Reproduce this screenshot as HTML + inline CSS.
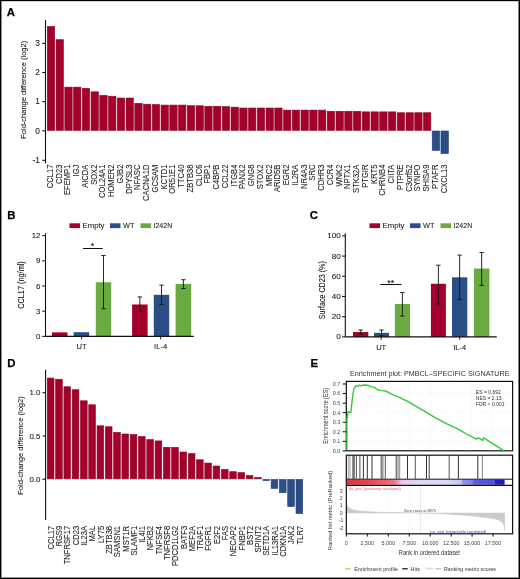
<!DOCTYPE html>
<html><head><meta charset="utf-8"><style>
html,body{margin:0;padding:0;background:#fff;}
body{width:520px;height:579px;overflow:hidden;position:relative;}
svg{position:absolute;left:0;top:0;font-family:"Liberation Sans", sans-serif;will-change:transform;}
.frame{position:absolute;left:0;top:0;width:520px;height:579px;box-sizing:border-box;border:1px solid #000;}
.frame2{position:absolute;left:1px;top:1px;width:518px;height:577px;box-sizing:border-box;border-top:1px solid #d0d0d0;border-left:1px solid #909090;border-right:1px solid #808080;border-bottom:1px solid #909090;}
</style></head><body>
<svg width="520" height="579" viewBox="0 0 520 579">
<text x="6.80" y="16.40" font-size="11.4" text-anchor="start" font-weight="bold" fill="#000" stroke="#000" stroke-width="0.25">A</text>
<text x="7.30" y="219.00" font-size="11.4" text-anchor="start" font-weight="bold" fill="#000" stroke="#000" stroke-width="0.25">B</text>
<text x="309.80" y="219.30" font-size="11.4" text-anchor="start" font-weight="bold" fill="#000" stroke="#000" stroke-width="0.25">C</text>
<text x="7.30" y="367.00" font-size="11.4" text-anchor="start" font-weight="bold" fill="#000" stroke="#000" stroke-width="0.25">D</text>
<text x="310.60" y="367.40" font-size="11.4" text-anchor="start" font-weight="bold" fill="#000" stroke="#000" stroke-width="0.25">E</text>
<rect x="47.30" y="26.45" width="7.40" height="103.95" fill="#a5002c" stroke="#880a28" stroke-width="0.6"/>
<text transform="translate(52.90,164.60) rotate(-90)" font-size="8.3" text-anchor="end" fill="#1a1a1a" stroke="#1a1a1a" stroke-width="0.08" textLength="23.66" lengthAdjust="spacingAndGlyphs" >CCL17</text>
<rect x="56.05" y="39.70" width="7.40" height="90.70" fill="#a5002c" stroke="#880a28" stroke-width="0.6"/>
<text transform="translate(61.65,164.60) rotate(-90)" font-size="8.3" text-anchor="end" fill="#1a1a1a" stroke="#1a1a1a" stroke-width="0.08" textLength="19.43" lengthAdjust="spacingAndGlyphs" >CD23</text>
<rect x="64.80" y="87.12" width="7.40" height="43.28" fill="#a5002c" stroke="#880a28" stroke-width="0.6"/>
<text transform="translate(70.40,164.60) rotate(-90)" font-size="8.3" text-anchor="end" fill="#1a1a1a" stroke="#1a1a1a" stroke-width="0.08" textLength="30.41" lengthAdjust="spacingAndGlyphs" >EFEMP1</text>
<rect x="73.54" y="87.12" width="7.40" height="43.28" fill="#a5002c" stroke="#880a28" stroke-width="0.6"/>
<text transform="translate(79.14,164.60) rotate(-90)" font-size="8.3" text-anchor="end" fill="#1a1a1a" stroke="#1a1a1a" stroke-width="0.08" textLength="11.82" lengthAdjust="spacingAndGlyphs" >IGJ</text>
<rect x="82.29" y="88.30" width="7.40" height="42.10" fill="#a5002c" stroke="#880a28" stroke-width="0.6"/>
<text transform="translate(87.89,164.60) rotate(-90)" font-size="8.3" text-anchor="end" fill="#1a1a1a" stroke="#1a1a1a" stroke-width="0.08" textLength="23.23" lengthAdjust="spacingAndGlyphs" >AICDA</text>
<rect x="91.04" y="91.83" width="7.40" height="38.57" fill="#a5002c" stroke="#880a28" stroke-width="0.6"/>
<text transform="translate(96.64,164.60) rotate(-90)" font-size="8.3" text-anchor="end" fill="#1a1a1a" stroke="#1a1a1a" stroke-width="0.08" textLength="20.28" lengthAdjust="spacingAndGlyphs" >SOX2</text>
<rect x="99.79" y="95.37" width="7.40" height="35.03" fill="#a5002c" stroke="#880a28" stroke-width="0.6"/>
<text transform="translate(105.39,164.60) rotate(-90)" font-size="8.3" text-anchor="end" fill="#1a1a1a" stroke="#1a1a1a" stroke-width="0.08" textLength="33.37" lengthAdjust="spacingAndGlyphs" >COL24A1</text>
<rect x="108.54" y="96.25" width="7.40" height="34.15" fill="#a5002c" stroke="#880a28" stroke-width="0.6"/>
<text transform="translate(114.14,164.60) rotate(-90)" font-size="8.3" text-anchor="end" fill="#1a1a1a" stroke="#1a1a1a" stroke-width="0.08" textLength="32.51" lengthAdjust="spacingAndGlyphs" >HOMER2</text>
<rect x="117.28" y="98.02" width="7.40" height="32.38" fill="#a5002c" stroke="#880a28" stroke-width="0.6"/>
<text transform="translate(122.88,164.60) rotate(-90)" font-size="8.3" text-anchor="end" fill="#1a1a1a" stroke="#1a1a1a" stroke-width="0.08" textLength="19.01" lengthAdjust="spacingAndGlyphs" >GJB2</text>
<rect x="126.03" y="98.02" width="7.40" height="32.38" fill="#a5002c" stroke="#880a28" stroke-width="0.6"/>
<text transform="translate(131.63,164.60) rotate(-90)" font-size="8.3" text-anchor="end" fill="#1a1a1a" stroke="#1a1a1a" stroke-width="0.08" textLength="29.15" lengthAdjust="spacingAndGlyphs" >DPYSL3</text>
<rect x="134.78" y="103.32" width="7.40" height="27.08" fill="#a5002c" stroke="#880a28" stroke-width="0.6"/>
<text transform="translate(140.38,164.60) rotate(-90)" font-size="8.3" text-anchor="end" fill="#1a1a1a" stroke="#1a1a1a" stroke-width="0.08" textLength="25.34" lengthAdjust="spacingAndGlyphs" >NFASC</text>
<rect x="143.53" y="104.20" width="7.40" height="26.20" fill="#a5002c" stroke="#880a28" stroke-width="0.6"/>
<text transform="translate(149.13,164.60) rotate(-90)" font-size="8.3" text-anchor="end" fill="#1a1a1a" stroke="#1a1a1a" stroke-width="0.08" textLength="36.32" lengthAdjust="spacingAndGlyphs" >CACNA1D</text>
<rect x="152.28" y="104.49" width="7.40" height="25.90" fill="#a5002c" stroke="#880a28" stroke-width="0.6"/>
<text transform="translate(157.88,164.60) rotate(-90)" font-size="8.3" text-anchor="end" fill="#1a1a1a" stroke="#1a1a1a" stroke-width="0.08" textLength="27.87" lengthAdjust="spacingAndGlyphs" >GCSAM</text>
<rect x="161.02" y="105.08" width="7.40" height="25.32" fill="#a5002c" stroke="#880a28" stroke-width="0.6"/>
<text transform="translate(166.62,164.60) rotate(-90)" font-size="8.3" text-anchor="end" fill="#1a1a1a" stroke="#1a1a1a" stroke-width="0.08" textLength="24.91" lengthAdjust="spacingAndGlyphs" >KCTD1</text>
<rect x="169.77" y="105.08" width="7.40" height="25.32" fill="#a5002c" stroke="#880a28" stroke-width="0.6"/>
<text transform="translate(175.37,164.60) rotate(-90)" font-size="8.3" text-anchor="end" fill="#1a1a1a" stroke="#1a1a1a" stroke-width="0.08" textLength="29.15" lengthAdjust="spacingAndGlyphs" >OR51E1</text>
<rect x="178.52" y="105.08" width="7.40" height="25.32" fill="#a5002c" stroke="#880a28" stroke-width="0.6"/>
<text transform="translate(184.12,164.60) rotate(-90)" font-size="8.3" text-anchor="end" fill="#1a1a1a" stroke="#1a1a1a" stroke-width="0.08" textLength="23.23" lengthAdjust="spacingAndGlyphs" >TTC40</text>
<rect x="187.27" y="105.67" width="7.40" height="24.73" fill="#a5002c" stroke="#880a28" stroke-width="0.6"/>
<text transform="translate(192.87,164.60) rotate(-90)" font-size="8.3" text-anchor="end" fill="#1a1a1a" stroke="#1a1a1a" stroke-width="0.08" textLength="27.88" lengthAdjust="spacingAndGlyphs" >ZBTB38</text>
<rect x="196.02" y="105.76" width="7.40" height="24.64" fill="#a5002c" stroke="#880a28" stroke-width="0.6"/>
<text transform="translate(201.62,164.60) rotate(-90)" font-size="8.3" text-anchor="end" fill="#1a1a1a" stroke="#1a1a1a" stroke-width="0.08" textLength="21.54" lengthAdjust="spacingAndGlyphs" >CLIC6</text>
<rect x="204.76" y="106.26" width="7.40" height="24.14" fill="#a5002c" stroke="#880a28" stroke-width="0.6"/>
<text transform="translate(210.36,164.60) rotate(-90)" font-size="8.3" text-anchor="end" fill="#1a1a1a" stroke="#1a1a1a" stroke-width="0.08" textLength="19.01" lengthAdjust="spacingAndGlyphs" >FBP1</text>
<rect x="213.51" y="106.26" width="7.40" height="24.14" fill="#a5002c" stroke="#880a28" stroke-width="0.6"/>
<text transform="translate(219.11,164.60) rotate(-90)" font-size="8.3" text-anchor="end" fill="#1a1a1a" stroke="#1a1a1a" stroke-width="0.08" textLength="24.92" lengthAdjust="spacingAndGlyphs" >C4BPB</text>
<rect x="222.26" y="106.56" width="7.40" height="23.84" fill="#a5002c" stroke="#880a28" stroke-width="0.6"/>
<text transform="translate(227.86,164.60) rotate(-90)" font-size="8.3" text-anchor="end" fill="#1a1a1a" stroke="#1a1a1a" stroke-width="0.08" textLength="23.66" lengthAdjust="spacingAndGlyphs" >CCL22</text>
<rect x="231.01" y="107.15" width="7.40" height="23.25" fill="#a5002c" stroke="#880a28" stroke-width="0.6"/>
<text transform="translate(236.61,164.60) rotate(-90)" font-size="8.3" text-anchor="end" fill="#1a1a1a" stroke="#1a1a1a" stroke-width="0.08" textLength="21.96" lengthAdjust="spacingAndGlyphs" >ITGB4</text>
<rect x="239.76" y="108.03" width="7.40" height="22.37" fill="#a5002c" stroke="#880a28" stroke-width="0.6"/>
<text transform="translate(245.36,164.60) rotate(-90)" font-size="8.3" text-anchor="end" fill="#1a1a1a" stroke="#1a1a1a" stroke-width="0.08" textLength="24.36" lengthAdjust="spacingAndGlyphs" >PANX2</text>
<rect x="248.50" y="108.03" width="7.40" height="22.37" fill="#a5002c" stroke="#880a28" stroke-width="0.6"/>
<text transform="translate(254.10,164.60) rotate(-90)" font-size="8.3" text-anchor="end" fill="#1a1a1a" stroke="#1a1a1a" stroke-width="0.08" textLength="21.54" lengthAdjust="spacingAndGlyphs" >GNG8</text>
<rect x="257.25" y="108.03" width="7.40" height="22.37" fill="#a5002c" stroke="#880a28" stroke-width="0.6"/>
<text transform="translate(262.85,164.60) rotate(-90)" font-size="8.3" text-anchor="end" fill="#1a1a1a" stroke="#1a1a1a" stroke-width="0.08" textLength="24.78" lengthAdjust="spacingAndGlyphs" >STOX2</text>
<rect x="266.00" y="108.03" width="7.40" height="22.37" fill="#a5002c" stroke="#880a28" stroke-width="0.6"/>
<text transform="translate(271.60,164.60) rotate(-90)" font-size="8.3" text-anchor="end" fill="#1a1a1a" stroke="#1a1a1a" stroke-width="0.08" textLength="21.53" lengthAdjust="spacingAndGlyphs" >MRC2</text>
<rect x="274.75" y="108.03" width="7.40" height="22.37" fill="#a5002c" stroke="#880a28" stroke-width="0.6"/>
<text transform="translate(280.35,164.60) rotate(-90)" font-size="8.3" text-anchor="end" fill="#1a1a1a" stroke="#1a1a1a" stroke-width="0.08" textLength="27.45" lengthAdjust="spacingAndGlyphs" >ARID5B</text>
<rect x="283.50" y="110.09" width="7.40" height="20.31" fill="#a5002c" stroke="#880a28" stroke-width="0.6"/>
<text transform="translate(289.10,164.60) rotate(-90)" font-size="8.3" text-anchor="end" fill="#1a1a1a" stroke="#1a1a1a" stroke-width="0.08" textLength="20.7" lengthAdjust="spacingAndGlyphs" >EGR2</text>
<rect x="292.24" y="110.09" width="7.40" height="20.31" fill="#a5002c" stroke="#880a28" stroke-width="0.6"/>
<text transform="translate(297.84,164.60) rotate(-90)" font-size="8.3" text-anchor="end" fill="#1a1a1a" stroke="#1a1a1a" stroke-width="0.08" textLength="21.12" lengthAdjust="spacingAndGlyphs" >IL2RA</text>
<rect x="300.99" y="110.09" width="7.40" height="20.31" fill="#a5002c" stroke="#880a28" stroke-width="0.6"/>
<text transform="translate(306.59,164.60) rotate(-90)" font-size="8.3" text-anchor="end" fill="#1a1a1a" stroke="#1a1a1a" stroke-width="0.08" textLength="24.5" lengthAdjust="spacingAndGlyphs" >NR4A3</text>
<rect x="309.74" y="110.09" width="7.40" height="20.31" fill="#a5002c" stroke="#880a28" stroke-width="0.6"/>
<text transform="translate(315.34,164.60) rotate(-90)" font-size="8.3" text-anchor="end" fill="#1a1a1a" stroke="#1a1a1a" stroke-width="0.08" textLength="16.05" lengthAdjust="spacingAndGlyphs" >SRC</text>
<rect x="318.49" y="110.09" width="7.40" height="20.31" fill="#a5002c" stroke="#880a28" stroke-width="0.6"/>
<text transform="translate(324.09,164.60) rotate(-90)" font-size="8.3" text-anchor="end" fill="#1a1a1a" stroke="#1a1a1a" stroke-width="0.08" textLength="26.18" lengthAdjust="spacingAndGlyphs" >CDHR3</text>
<rect x="327.24" y="111.27" width="7.40" height="19.13" fill="#a5002c" stroke="#880a28" stroke-width="0.6"/>
<text transform="translate(332.84,164.60) rotate(-90)" font-size="8.3" text-anchor="end" fill="#1a1a1a" stroke="#1a1a1a" stroke-width="0.08" textLength="20.69" lengthAdjust="spacingAndGlyphs" >CCR4</text>
<rect x="335.98" y="111.27" width="7.40" height="19.13" fill="#a5002c" stroke="#880a28" stroke-width="0.6"/>
<text transform="translate(341.58,164.60) rotate(-90)" font-size="8.3" text-anchor="end" fill="#1a1a1a" stroke="#1a1a1a" stroke-width="0.08" textLength="21.96" lengthAdjust="spacingAndGlyphs" >WNK2</text>
<rect x="344.73" y="111.27" width="7.40" height="19.13" fill="#a5002c" stroke="#880a28" stroke-width="0.6"/>
<text transform="translate(350.33,164.60) rotate(-90)" font-size="8.3" text-anchor="end" fill="#1a1a1a" stroke="#1a1a1a" stroke-width="0.08" textLength="24.5" lengthAdjust="spacingAndGlyphs" >NPTX1</text>
<rect x="353.48" y="111.27" width="7.40" height="19.13" fill="#a5002c" stroke="#880a28" stroke-width="0.6"/>
<text transform="translate(359.08,164.60) rotate(-90)" font-size="8.3" text-anchor="end" fill="#1a1a1a" stroke="#1a1a1a" stroke-width="0.08" textLength="28.3" lengthAdjust="spacingAndGlyphs" >STK32A</text>
<rect x="362.23" y="111.86" width="7.40" height="18.54" fill="#a5002c" stroke="#880a28" stroke-width="0.6"/>
<text transform="translate(367.83,164.60) rotate(-90)" font-size="8.3" text-anchor="end" fill="#1a1a1a" stroke="#1a1a1a" stroke-width="0.08" textLength="23.22" lengthAdjust="spacingAndGlyphs" >PTGIR</text>
<rect x="370.98" y="111.86" width="7.40" height="18.54" fill="#a5002c" stroke="#880a28" stroke-width="0.6"/>
<text transform="translate(376.58,164.60) rotate(-90)" font-size="8.3" text-anchor="end" fill="#1a1a1a" stroke="#1a1a1a" stroke-width="0.08" textLength="19.29" lengthAdjust="spacingAndGlyphs" >KRT5</text>
<rect x="379.72" y="111.86" width="7.40" height="18.54" fill="#a5002c" stroke="#880a28" stroke-width="0.6"/>
<text transform="translate(385.32,164.60) rotate(-90)" font-size="8.3" text-anchor="end" fill="#1a1a1a" stroke="#1a1a1a" stroke-width="0.08" textLength="31.25" lengthAdjust="spacingAndGlyphs" >CHRNB4</text>
<rect x="388.47" y="111.86" width="7.40" height="18.54" fill="#a5002c" stroke="#880a28" stroke-width="0.6"/>
<text transform="translate(394.07,164.60) rotate(-90)" font-size="8.3" text-anchor="end" fill="#1a1a1a" stroke="#1a1a1a" stroke-width="0.08" textLength="18.86" lengthAdjust="spacingAndGlyphs" >CIITA</text>
<rect x="397.22" y="112.74" width="7.40" height="17.66" fill="#a5002c" stroke="#880a28" stroke-width="0.6"/>
<text transform="translate(402.82,164.60) rotate(-90)" font-size="8.3" text-anchor="end" fill="#1a1a1a" stroke="#1a1a1a" stroke-width="0.08" textLength="25.34" lengthAdjust="spacingAndGlyphs" >PTPRE</text>
<rect x="405.97" y="112.74" width="7.40" height="17.66" fill="#a5002c" stroke="#880a28" stroke-width="0.6"/>
<text transform="translate(411.57,164.60) rotate(-90)" font-size="8.3" text-anchor="end" fill="#1a1a1a" stroke="#1a1a1a" stroke-width="0.08" textLength="27.04" lengthAdjust="spacingAndGlyphs" >C3orf52</text>
<rect x="414.72" y="112.74" width="7.40" height="17.66" fill="#a5002c" stroke="#880a28" stroke-width="0.6"/>
<text transform="translate(420.32,164.60) rotate(-90)" font-size="8.3" text-anchor="end" fill="#1a1a1a" stroke="#1a1a1a" stroke-width="0.08" textLength="26.61" lengthAdjust="spacingAndGlyphs" >SYNPO</text>
<rect x="423.46" y="112.74" width="7.40" height="17.66" fill="#a5002c" stroke="#880a28" stroke-width="0.6"/>
<text transform="translate(429.06,164.60) rotate(-90)" font-size="8.3" text-anchor="end" fill="#1a1a1a" stroke="#1a1a1a" stroke-width="0.08" textLength="27.03" lengthAdjust="spacingAndGlyphs" >SHISA9</text>
<rect x="432.21" y="131.00" width="7.40" height="19.43" fill="#2c4e87" stroke="#223f70" stroke-width="0.6"/>
<text transform="translate(437.81,164.60) rotate(-90)" font-size="8.3" text-anchor="end" fill="#1a1a1a" stroke="#1a1a1a" stroke-width="0.08" textLength="24.35" lengthAdjust="spacingAndGlyphs" >PTAFR</text>
<rect x="440.96" y="131.00" width="7.40" height="22.67" fill="#2c4e87" stroke="#223f70" stroke-width="0.6"/>
<text transform="translate(446.56,164.60) rotate(-90)" font-size="8.3" text-anchor="end" fill="#1a1a1a" stroke="#1a1a1a" stroke-width="0.08" textLength="28.73" lengthAdjust="spacingAndGlyphs" >CXCL13</text>
<line x1="45.50" y1="20.00" x2="45.50" y2="163.30" stroke="#111" stroke-width="1.1" />
<line x1="42.30" y1="43.40" x2="45.60" y2="43.40" stroke="#111" stroke-width="1.1" />
<text x="40.00" y="46.10" font-size="8.4" text-anchor="end" font-weight="normal" fill="#1a1a1a" stroke="#1a1a1a" stroke-width="0.08" >3</text>
<line x1="42.30" y1="72.50" x2="45.60" y2="72.50" stroke="#111" stroke-width="1.1" />
<text x="40.00" y="75.20" font-size="8.4" text-anchor="end" font-weight="normal" fill="#1a1a1a" stroke="#1a1a1a" stroke-width="0.08" >2</text>
<line x1="42.30" y1="101.60" x2="45.60" y2="101.60" stroke="#111" stroke-width="1.1" />
<text x="40.00" y="104.30" font-size="8.4" text-anchor="end" font-weight="normal" fill="#1a1a1a" stroke="#1a1a1a" stroke-width="0.08" >1</text>
<line x1="42.30" y1="130.80" x2="45.60" y2="130.80" stroke="#111" stroke-width="1.1" />
<text x="40.00" y="133.50" font-size="8.4" text-anchor="end" font-weight="normal" fill="#1a1a1a" stroke="#1a1a1a" stroke-width="0.08" >0</text>
<line x1="42.30" y1="160.30" x2="45.60" y2="160.30" stroke="#111" stroke-width="1.1" />
<text x="40.00" y="163.00" font-size="8.4" text-anchor="end" font-weight="normal" fill="#1a1a1a" stroke="#1a1a1a" stroke-width="0.08" >-1</text>
<text transform="translate(25.80,89.80) rotate(-90)" font-size="8.0" text-anchor="middle" fill="#111" stroke="#111" stroke-width="0.08" textLength="98" lengthAdjust="spacingAndGlyphs" >Fold-change difference (log2)</text>
<rect x="69.50" y="223.30" width="10.50" height="4.80" fill="#a5002c" />
<text x="82.50" y="228.40" font-size="7.6" text-anchor="start" font-weight="normal" fill="#1a1a1a" stroke="#1a1a1a" stroke-width="0.08" textLength="22" lengthAdjust="spacingAndGlyphs" >Empty</text>
<rect x="110.00" y="223.30" width="10.50" height="4.80" fill="#2c4e87" />
<text x="123.00" y="228.40" font-size="7.6" text-anchor="start" font-weight="normal" fill="#1a1a1a" stroke="#1a1a1a" stroke-width="0.08" textLength="11.5" lengthAdjust="spacingAndGlyphs" >WT</text>
<rect x="140.50" y="223.30" width="10.50" height="4.80" fill="#6aaa40" />
<text x="153.50" y="228.40" font-size="7.6" text-anchor="start" font-weight="normal" fill="#1a1a1a" stroke="#1a1a1a" stroke-width="0.08" textLength="18.7" lengthAdjust="spacingAndGlyphs" >I242N</text>
<rect x="51.90" y="332.37" width="15.60" height="4.03" fill="#a5002c" />
<rect x="73.60" y="332.20" width="15.60" height="4.20" fill="#2c4e87" />
<rect x="95.80" y="282.22" width="15.40" height="54.18" fill="#6aaa40" />
<line x1="103.50" y1="255.51" x2="103.50" y2="308.68" stroke="#111" stroke-width="0.9" />
<line x1="101.30" y1="255.51" x2="105.70" y2="255.51" stroke="#111" stroke-width="0.9" />
<line x1="101.30" y1="308.68" x2="105.70" y2="308.68" stroke="#111" stroke-width="0.9" />
<rect x="132.10" y="304.48" width="15.50" height="31.92" fill="#a5002c" />
<line x1="139.85" y1="296.92" x2="139.85" y2="311.20" stroke="#111" stroke-width="0.9" />
<line x1="137.65" y1="296.92" x2="142.05" y2="296.92" stroke="#111" stroke-width="0.9" />
<line x1="137.65" y1="311.20" x2="142.05" y2="311.20" stroke="#111" stroke-width="0.9" />
<rect x="153.80" y="294.82" width="15.40" height="41.58" fill="#2c4e87" />
<line x1="161.50" y1="285.16" x2="161.50" y2="304.48" stroke="#111" stroke-width="0.9" />
<line x1="159.30" y1="285.16" x2="163.70" y2="285.16" stroke="#111" stroke-width="0.9" />
<line x1="159.30" y1="304.48" x2="163.70" y2="304.48" stroke="#111" stroke-width="0.9" />
<rect x="175.60" y="283.90" width="15.60" height="52.50" fill="#6aaa40" />
<line x1="183.40" y1="279.70" x2="183.40" y2="288.52" stroke="#111" stroke-width="0.9" />
<line x1="181.20" y1="279.70" x2="185.60" y2="279.70" stroke="#111" stroke-width="0.9" />
<line x1="181.20" y1="288.52" x2="185.60" y2="288.52" stroke="#111" stroke-width="0.9" />
<line x1="45.50" y1="233.30" x2="45.50" y2="336.40" stroke="#111" stroke-width="1.1" />
<line x1="45.50" y1="336.40" x2="193.80" y2="336.40" stroke="#111" stroke-width="1.1" />
<line x1="42.20" y1="336.40" x2="45.50" y2="336.40" stroke="#111" stroke-width="1.0" />
<text x="40.50" y="338.90" font-size="7.9" text-anchor="end" font-weight="normal" fill="#1a1a1a" stroke="#1a1a1a" stroke-width="0.08" >0</text>
<line x1="42.20" y1="311.20" x2="45.50" y2="311.20" stroke="#111" stroke-width="1.0" />
<text x="40.50" y="313.70" font-size="7.9" text-anchor="end" font-weight="normal" fill="#1a1a1a" stroke="#1a1a1a" stroke-width="0.08" >3</text>
<line x1="42.20" y1="286.00" x2="45.50" y2="286.00" stroke="#111" stroke-width="1.0" />
<text x="40.50" y="288.50" font-size="7.9" text-anchor="end" font-weight="normal" fill="#1a1a1a" stroke="#1a1a1a" stroke-width="0.08" >6</text>
<line x1="42.20" y1="260.80" x2="45.50" y2="260.80" stroke="#111" stroke-width="1.0" />
<text x="40.50" y="263.30" font-size="7.9" text-anchor="end" font-weight="normal" fill="#1a1a1a" stroke="#1a1a1a" stroke-width="0.08" >9</text>
<line x1="42.20" y1="235.60" x2="45.50" y2="235.60" stroke="#111" stroke-width="1.0" />
<text x="40.50" y="238.10" font-size="7.9" text-anchor="end" font-weight="normal" fill="#1a1a1a" stroke="#1a1a1a" stroke-width="0.08" >12</text>
<line x1="81.60" y1="336.40" x2="81.60" y2="339.40" stroke="#111" stroke-width="0.9" />
<line x1="160.60" y1="336.40" x2="160.60" y2="339.40" stroke="#111" stroke-width="0.9" />
<text x="81.60" y="349.20" font-size="7.6" text-anchor="middle" font-weight="normal" fill="#1a1a1a" stroke="#1a1a1a" stroke-width="0.08" >UT</text>
<text x="160.60" y="349.20" font-size="7.6" text-anchor="middle" font-weight="normal" fill="#1a1a1a" stroke="#1a1a1a" stroke-width="0.08" >IL-4</text>
<line x1="83.00" y1="248.50" x2="102.70" y2="248.50" stroke="#111" stroke-width="1.0" />
<text x="92.60" y="248.60" font-size="9" text-anchor="middle" font-weight="normal" fill="#111" stroke="#111" stroke-width="0.08" >*</text>
<text transform="translate(24.40,285.00) rotate(-90)" font-size="8.2" text-anchor="middle" fill="#111" stroke="#111" stroke-width="0.08" textLength="47.6" lengthAdjust="spacingAndGlyphs" >CCL17 (ng/ml)</text>
<rect x="369.50" y="223.30" width="10.50" height="4.80" fill="#a5002c" />
<text x="382.50" y="228.40" font-size="7.6" text-anchor="start" font-weight="normal" fill="#1a1a1a" stroke="#1a1a1a" stroke-width="0.08" textLength="22" lengthAdjust="spacingAndGlyphs" >Empty</text>
<rect x="410.00" y="223.30" width="10.50" height="4.80" fill="#2c4e87" />
<text x="423.00" y="228.40" font-size="7.6" text-anchor="start" font-weight="normal" fill="#1a1a1a" stroke="#1a1a1a" stroke-width="0.08" textLength="11.5" lengthAdjust="spacingAndGlyphs" >WT</text>
<rect x="440.50" y="223.30" width="10.50" height="4.80" fill="#6aaa40" />
<text x="453.50" y="228.40" font-size="7.6" text-anchor="start" font-weight="normal" fill="#1a1a1a" stroke="#1a1a1a" stroke-width="0.08" textLength="18.7" lengthAdjust="spacingAndGlyphs" >I242N</text>
<rect x="353.00" y="332.05" width="15.30" height="4.85" fill="#a5002c" />
<line x1="360.65" y1="330.03" x2="360.65" y2="334.07" stroke="#111" stroke-width="0.9" />
<line x1="358.45" y1="330.03" x2="362.85" y2="330.03" stroke="#111" stroke-width="0.9" />
<line x1="358.45" y1="334.07" x2="362.85" y2="334.07" stroke="#111" stroke-width="0.9" />
<rect x="374.00" y="332.86" width="15.00" height="4.04" fill="#2c4e87" />
<line x1="381.50" y1="330.03" x2="381.50" y2="335.69" stroke="#111" stroke-width="0.9" />
<line x1="379.30" y1="330.03" x2="383.70" y2="330.03" stroke="#111" stroke-width="0.9" />
<line x1="379.30" y1="335.69" x2="383.70" y2="335.69" stroke="#111" stroke-width="0.9" />
<rect x="394.80" y="303.97" width="15.20" height="32.93" fill="#6aaa40" />
<line x1="402.40" y1="292.46" x2="402.40" y2="315.99" stroke="#111" stroke-width="0.9" />
<line x1="400.20" y1="292.46" x2="404.60" y2="292.46" stroke="#111" stroke-width="0.9" />
<line x1="400.20" y1="315.99" x2="404.60" y2="315.99" stroke="#111" stroke-width="0.9" />
<rect x="430.90" y="283.77" width="15.00" height="53.13" fill="#a5002c" />
<line x1="438.40" y1="265.19" x2="438.40" y2="303.97" stroke="#111" stroke-width="0.9" />
<line x1="436.20" y1="265.19" x2="440.60" y2="265.19" stroke="#111" stroke-width="0.9" />
<line x1="436.20" y1="303.97" x2="440.60" y2="303.97" stroke="#111" stroke-width="0.9" />
<rect x="452.00" y="277.31" width="15.30" height="59.59" fill="#2c4e87" />
<line x1="459.65" y1="255.09" x2="459.65" y2="299.53" stroke="#111" stroke-width="0.9" />
<line x1="457.45" y1="255.09" x2="461.85" y2="255.09" stroke="#111" stroke-width="0.9" />
<line x1="457.45" y1="299.53" x2="461.85" y2="299.53" stroke="#111" stroke-width="0.9" />
<rect x="473.90" y="268.52" width="15.50" height="68.38" fill="#6aaa40" />
<line x1="481.65" y1="252.56" x2="481.65" y2="285.39" stroke="#111" stroke-width="0.9" />
<line x1="479.45" y1="252.56" x2="483.85" y2="252.56" stroke="#111" stroke-width="0.9" />
<line x1="479.45" y1="285.39" x2="483.85" y2="285.39" stroke="#111" stroke-width="0.9" />
<line x1="345.30" y1="233.30" x2="345.30" y2="336.90" stroke="#111" stroke-width="1.1" />
<line x1="345.30" y1="336.90" x2="496.80" y2="336.90" stroke="#111" stroke-width="1.1" />
<line x1="342.00" y1="336.90" x2="345.30" y2="336.90" stroke="#111" stroke-width="1.0" />
<text x="340.70" y="339.30" font-size="8.1" text-anchor="end" font-weight="normal" fill="#1a1a1a" stroke="#1a1a1a" stroke-width="0.08" >0</text>
<line x1="342.00" y1="316.70" x2="345.30" y2="316.70" stroke="#111" stroke-width="1.0" />
<text x="340.70" y="319.10" font-size="8.1" text-anchor="end" font-weight="normal" fill="#1a1a1a" stroke="#1a1a1a" stroke-width="0.08" >20</text>
<line x1="342.00" y1="296.50" x2="345.30" y2="296.50" stroke="#111" stroke-width="1.0" />
<text x="340.70" y="298.90" font-size="8.1" text-anchor="end" font-weight="normal" fill="#1a1a1a" stroke="#1a1a1a" stroke-width="0.08" >40</text>
<line x1="342.00" y1="276.30" x2="345.30" y2="276.30" stroke="#111" stroke-width="1.0" />
<text x="340.70" y="278.70" font-size="8.1" text-anchor="end" font-weight="normal" fill="#1a1a1a" stroke="#1a1a1a" stroke-width="0.08" >60</text>
<line x1="342.00" y1="256.10" x2="345.30" y2="256.10" stroke="#111" stroke-width="1.0" />
<text x="340.70" y="258.50" font-size="8.1" text-anchor="end" font-weight="normal" fill="#1a1a1a" stroke="#1a1a1a" stroke-width="0.08" >80</text>
<line x1="342.00" y1="235.90" x2="345.30" y2="235.90" stroke="#111" stroke-width="1.0" />
<text x="340.70" y="238.30" font-size="8.1" text-anchor="end" font-weight="normal" fill="#1a1a1a" stroke="#1a1a1a" stroke-width="0.08" >100</text>
<line x1="381.20" y1="336.90" x2="381.20" y2="339.90" stroke="#111" stroke-width="0.9" />
<line x1="459.70" y1="336.90" x2="459.70" y2="339.90" stroke="#111" stroke-width="0.9" />
<text x="381.20" y="349.60" font-size="7.6" text-anchor="middle" font-weight="normal" fill="#1a1a1a" stroke="#1a1a1a" stroke-width="0.08" >UT</text>
<text x="459.70" y="349.60" font-size="7.6" text-anchor="middle" font-weight="normal" fill="#1a1a1a" stroke="#1a1a1a" stroke-width="0.08" >IL-4</text>
<line x1="380.20" y1="284.50" x2="401.50" y2="284.50" stroke="#111" stroke-width="1.0" />
<text x="390.80" y="285.80" font-size="9" text-anchor="middle" font-weight="normal" fill="#111" stroke="#111" stroke-width="0.08" >**</text>
<text transform="translate(325.00,290.20) rotate(-90)" font-size="8.2" text-anchor="middle" fill="#111" stroke="#111" stroke-width="0.08" textLength="58" lengthAdjust="spacingAndGlyphs" >Surface CD23 (%)</text>
<rect x="47.30" y="378.04" width="6.70" height="100.86" fill="#a5002c" stroke="#880a28" stroke-width="0.6"/>
<text transform="translate(53.90,525.90) rotate(-90)" font-size="8.3" text-anchor="end" fill="#1a1a1a" stroke="#1a1a1a" stroke-width="0.08" textLength="23.66" lengthAdjust="spacingAndGlyphs" >CCL17</text>
<rect x="55.59" y="379.25" width="6.70" height="99.65" fill="#a5002c" stroke="#880a28" stroke-width="0.6"/>
<text transform="translate(62.19,525.90) rotate(-90)" font-size="8.3" text-anchor="end" fill="#1a1a1a" stroke="#1a1a1a" stroke-width="0.08" textLength="20.7" lengthAdjust="spacingAndGlyphs" >RGS9</text>
<rect x="63.88" y="386.77" width="6.70" height="92.13" fill="#a5002c" stroke="#880a28" stroke-width="0.6"/>
<text transform="translate(70.48,525.90) rotate(-90)" font-size="8.3" text-anchor="end" fill="#1a1a1a" stroke="#1a1a1a" stroke-width="0.08" textLength="38.43" lengthAdjust="spacingAndGlyphs" >TNFRSF17</text>
<rect x="72.17" y="389.71" width="6.70" height="89.19" fill="#a5002c" stroke="#880a28" stroke-width="0.6"/>
<text transform="translate(78.77,525.90) rotate(-90)" font-size="8.3" text-anchor="end" fill="#1a1a1a" stroke="#1a1a1a" stroke-width="0.08" textLength="19.43" lengthAdjust="spacingAndGlyphs" >CD23</text>
<rect x="80.46" y="400.79" width="6.70" height="78.12" fill="#a5002c" stroke="#880a28" stroke-width="0.6"/>
<text transform="translate(87.06,525.90) rotate(-90)" font-size="8.3" text-anchor="end" fill="#1a1a1a" stroke="#1a1a1a" stroke-width="0.08" textLength="19.86" lengthAdjust="spacingAndGlyphs" >IL23A</text>
<rect x="88.75" y="404.76" width="6.70" height="74.14" fill="#a5002c" stroke="#880a28" stroke-width="0.6"/>
<text transform="translate(95.35,525.90) rotate(-90)" font-size="8.3" text-anchor="end" fill="#1a1a1a" stroke="#1a1a1a" stroke-width="0.08" textLength="15.63" lengthAdjust="spacingAndGlyphs" >MAL</text>
<rect x="97.04" y="425.78" width="6.70" height="53.12" fill="#a5002c" stroke="#880a28" stroke-width="0.6"/>
<text transform="translate(103.64,525.90) rotate(-90)" font-size="8.3" text-anchor="end" fill="#1a1a1a" stroke="#1a1a1a" stroke-width="0.08" textLength="17.18" lengthAdjust="spacingAndGlyphs" >LY75</text>
<rect x="105.33" y="426.74" width="6.70" height="52.16" fill="#a5002c" stroke="#880a28" stroke-width="0.6"/>
<text transform="translate(111.93,525.90) rotate(-90)" font-size="8.3" text-anchor="end" fill="#1a1a1a" stroke="#1a1a1a" stroke-width="0.08" textLength="27.88" lengthAdjust="spacingAndGlyphs" >ZBTB38</text>
<rect x="113.62" y="432.36" width="6.70" height="46.54" fill="#a5002c" stroke="#880a28" stroke-width="0.6"/>
<text transform="translate(120.22,525.90) rotate(-90)" font-size="8.3" text-anchor="end" fill="#1a1a1a" stroke="#1a1a1a" stroke-width="0.08" textLength="31.25" lengthAdjust="spacingAndGlyphs" >SAMSN1</text>
<rect x="121.91" y="434.00" width="6.70" height="44.90" fill="#a5002c" stroke="#880a28" stroke-width="0.6"/>
<text transform="translate(128.51,525.90) rotate(-90)" font-size="8.3" text-anchor="end" fill="#1a1a1a" stroke="#1a1a1a" stroke-width="0.08" textLength="25.76" lengthAdjust="spacingAndGlyphs" >MST1R</text>
<rect x="130.20" y="434.52" width="6.70" height="44.38" fill="#a5002c" stroke="#880a28" stroke-width="0.6"/>
<text transform="translate(136.80,525.90) rotate(-90)" font-size="8.3" text-anchor="end" fill="#1a1a1a" stroke="#1a1a1a" stroke-width="0.08" textLength="29.56" lengthAdjust="spacingAndGlyphs" >SLAMF1</text>
<rect x="138.49" y="436.51" width="6.70" height="42.39" fill="#a5002c" stroke="#880a28" stroke-width="0.6"/>
<text transform="translate(145.09,525.90) rotate(-90)" font-size="8.3" text-anchor="end" fill="#1a1a1a" stroke="#1a1a1a" stroke-width="0.08" textLength="16.9" lengthAdjust="spacingAndGlyphs" >IL4I1</text>
<rect x="146.78" y="439.54" width="6.70" height="39.36" fill="#a5002c" stroke="#880a28" stroke-width="0.6"/>
<text transform="translate(153.38,525.90) rotate(-90)" font-size="8.3" text-anchor="end" fill="#1a1a1a" stroke="#1a1a1a" stroke-width="0.08" textLength="24.5" lengthAdjust="spacingAndGlyphs" >NFKB2</text>
<rect x="155.07" y="440.92" width="6.70" height="37.98" fill="#a5002c" stroke="#880a28" stroke-width="0.6"/>
<text transform="translate(161.67,525.90) rotate(-90)" font-size="8.3" text-anchor="end" fill="#1a1a1a" stroke="#1a1a1a" stroke-width="0.08" textLength="28.71" lengthAdjust="spacingAndGlyphs" >TNFSF4</text>
<rect x="163.36" y="447.32" width="6.70" height="31.58" fill="#a5002c" stroke="#880a28" stroke-width="0.6"/>
<text transform="translate(169.96,525.90) rotate(-90)" font-size="8.3" text-anchor="end" fill="#1a1a1a" stroke="#1a1a1a" stroke-width="0.08" textLength="34.2" lengthAdjust="spacingAndGlyphs" >TNFRSF8</text>
<rect x="171.65" y="447.32" width="6.70" height="31.58" fill="#a5002c" stroke="#880a28" stroke-width="0.6"/>
<text transform="translate(178.25,525.90) rotate(-90)" font-size="8.3" text-anchor="end" fill="#1a1a1a" stroke="#1a1a1a" stroke-width="0.08" textLength="40.13" lengthAdjust="spacingAndGlyphs" >PDCD1LG2</text>
<rect x="179.94" y="451.99" width="6.70" height="26.91" fill="#a5002c" stroke="#880a28" stroke-width="0.6"/>
<text transform="translate(186.54,525.90) rotate(-90)" font-size="8.3" text-anchor="end" fill="#1a1a1a" stroke="#1a1a1a" stroke-width="0.08" textLength="23.09" lengthAdjust="spacingAndGlyphs" >BATF3</text>
<rect x="188.23" y="453.55" width="6.70" height="25.35" fill="#a5002c" stroke="#880a28" stroke-width="0.6"/>
<text transform="translate(194.83,525.90) rotate(-90)" font-size="8.3" text-anchor="end" fill="#1a1a1a" stroke="#1a1a1a" stroke-width="0.08" textLength="25.34" lengthAdjust="spacingAndGlyphs" >MEF2A</text>
<rect x="196.52" y="459.78" width="6.70" height="19.12" fill="#a5002c" stroke="#880a28" stroke-width="0.6"/>
<text transform="translate(203.12,525.90) rotate(-90)" font-size="8.3" text-anchor="end" fill="#1a1a1a" stroke="#1a1a1a" stroke-width="0.08" textLength="24.07" lengthAdjust="spacingAndGlyphs" >TRAF1</text>
<rect x="204.81" y="463.06" width="6.70" height="15.83" fill="#a5002c" stroke="#880a28" stroke-width="0.6"/>
<text transform="translate(211.41,525.90) rotate(-90)" font-size="8.3" text-anchor="end" fill="#1a1a1a" stroke="#1a1a1a" stroke-width="0.08" textLength="24.91" lengthAdjust="spacingAndGlyphs" >FGFR1</text>
<rect x="213.10" y="466.01" width="6.70" height="12.89" fill="#a5002c" stroke="#880a28" stroke-width="0.6"/>
<text transform="translate(219.70,525.90) rotate(-90)" font-size="8.3" text-anchor="end" fill="#1a1a1a" stroke="#1a1a1a" stroke-width="0.08" textLength="18.16" lengthAdjust="spacingAndGlyphs" >E2F2</text>
<rect x="221.39" y="469.38" width="6.70" height="9.52" fill="#a5002c" stroke="#880a28" stroke-width="0.6"/>
<text transform="translate(227.99,525.90) rotate(-90)" font-size="8.3" text-anchor="end" fill="#1a1a1a" stroke="#1a1a1a" stroke-width="0.08" textLength="14.36" lengthAdjust="spacingAndGlyphs" >FAS</text>
<rect x="229.68" y="471.71" width="6.70" height="7.19" fill="#a5002c" stroke="#880a28" stroke-width="0.6"/>
<text transform="translate(236.28,525.90) rotate(-90)" font-size="8.3" text-anchor="end" fill="#1a1a1a" stroke="#1a1a1a" stroke-width="0.08" textLength="30.41" lengthAdjust="spacingAndGlyphs" >NECAP2</text>
<rect x="237.97" y="472.58" width="6.70" height="6.32" fill="#a5002c" stroke="#880a28" stroke-width="0.6"/>
<text transform="translate(244.57,525.90) rotate(-90)" font-size="8.3" text-anchor="end" fill="#1a1a1a" stroke="#1a1a1a" stroke-width="0.08" textLength="24.5" lengthAdjust="spacingAndGlyphs" >FNBP1</text>
<rect x="246.26" y="475.52" width="6.70" height="3.38" fill="#a5002c" stroke="#880a28" stroke-width="0.6"/>
<text transform="translate(252.86,525.90) rotate(-90)" font-size="8.3" text-anchor="end" fill="#1a1a1a" stroke="#1a1a1a" stroke-width="0.08" textLength="19.01" lengthAdjust="spacingAndGlyphs" >BST2</text>
<rect x="254.55" y="477.51" width="6.70" height="1.39" fill="#a5002c" stroke="#880a28" stroke-width="0.6"/>
<text transform="translate(261.15,525.90) rotate(-90)" font-size="8.3" text-anchor="end" fill="#1a1a1a" stroke="#1a1a1a" stroke-width="0.08" textLength="26.61" lengthAdjust="spacingAndGlyphs" >SPINT2</text>
<rect x="262.84" y="479.50" width="6.70" height="1.13" fill="#2c4e87" stroke="#223f70" stroke-width="0.6"/>
<text transform="translate(269.44,525.90) rotate(-90)" font-size="8.3" text-anchor="end" fill="#1a1a1a" stroke="#1a1a1a" stroke-width="0.08" textLength="29.57" lengthAdjust="spacingAndGlyphs" >SETD1A</text>
<rect x="271.13" y="479.50" width="6.70" height="8.92" fill="#2c4e87" stroke="#223f70" stroke-width="0.6"/>
<text transform="translate(277.73,525.90) rotate(-90)" font-size="8.3" text-anchor="end" fill="#1a1a1a" stroke="#1a1a1a" stroke-width="0.08" textLength="29.57" lengthAdjust="spacingAndGlyphs" >IL13RA1</text>
<rect x="279.42" y="479.50" width="6.70" height="13.24" fill="#2c4e87" stroke="#223f70" stroke-width="0.6"/>
<text transform="translate(286.02,525.90) rotate(-90)" font-size="8.3" text-anchor="end" fill="#1a1a1a" stroke="#1a1a1a" stroke-width="0.08" textLength="30.83" lengthAdjust="spacingAndGlyphs" >CDKN1A</text>
<rect x="287.71" y="479.50" width="6.70" height="27.08" fill="#2c4e87" stroke="#223f70" stroke-width="0.6"/>
<text transform="translate(294.31,525.90) rotate(-90)" font-size="8.3" text-anchor="end" fill="#1a1a1a" stroke="#1a1a1a" stroke-width="0.08" textLength="18.17" lengthAdjust="spacingAndGlyphs" >JAK2</text>
<rect x="296.00" y="479.50" width="6.70" height="34.00" fill="#2c4e87" stroke="#223f70" stroke-width="0.6"/>
<text transform="translate(302.60,525.90) rotate(-90)" font-size="8.3" text-anchor="end" fill="#1a1a1a" stroke="#1a1a1a" stroke-width="0.08" textLength="18.58" lengthAdjust="spacingAndGlyphs" >TLR7</text>
<line x1="45.60" y1="369.70" x2="45.60" y2="520.00" stroke="#111" stroke-width="1.1" />
<line x1="42.50" y1="479.20" x2="45.60" y2="479.20" stroke="#111" stroke-width="1.1" />
<text x="40.40" y="481.80" font-size="7.9" text-anchor="end" font-weight="normal" fill="#1a1a1a" stroke="#1a1a1a" stroke-width="0.08" >0.0</text>
<line x1="42.50" y1="435.95" x2="45.60" y2="435.95" stroke="#111" stroke-width="1.1" />
<text x="40.40" y="438.55" font-size="7.9" text-anchor="end" font-weight="normal" fill="#1a1a1a" stroke="#1a1a1a" stroke-width="0.08" >0.5</text>
<line x1="42.50" y1="392.70" x2="45.60" y2="392.70" stroke="#111" stroke-width="1.1" />
<text x="40.40" y="395.30" font-size="7.9" text-anchor="end" font-weight="normal" fill="#1a1a1a" stroke="#1a1a1a" stroke-width="0.08" >1.0</text>
<text transform="translate(23.40,445.50) rotate(-90)" font-size="8.0" text-anchor="middle" fill="#111" stroke="#111" stroke-width="0.08" textLength="98.5" lengthAdjust="spacingAndGlyphs" >Fold-change difference (log2)</text>
<text x="350.00" y="376.40" font-size="7.7" text-anchor="start" font-weight="normal" fill="#333" textLength="159.5" lengthAdjust="spacingAndGlyphs" >Enrichment plot: PMBCL–SPECIFIC SIGNATURE</text>
<line x1="368.00" y1="382.00" x2="368.00" y2="450.00" stroke="#f2f2f2" stroke-width="0.5" />
<line x1="388.70" y1="382.00" x2="388.70" y2="450.00" stroke="#f2f2f2" stroke-width="0.5" />
<line x1="409.20" y1="382.00" x2="409.20" y2="450.00" stroke="#f2f2f2" stroke-width="0.5" />
<line x1="430.00" y1="382.00" x2="430.00" y2="450.00" stroke="#f2f2f2" stroke-width="0.5" />
<line x1="450.70" y1="382.00" x2="450.70" y2="450.00" stroke="#f2f2f2" stroke-width="0.5" />
<line x1="471.60" y1="382.00" x2="471.60" y2="450.00" stroke="#f2f2f2" stroke-width="0.5" />
<line x1="492.50" y1="382.00" x2="492.50" y2="450.00" stroke="#f2f2f2" stroke-width="0.5" />
<line x1="346.30" y1="441.34" x2="512.60" y2="441.34" stroke="#f2f2f2" stroke-width="0.5" />
<line x1="346.30" y1="431.78" x2="512.60" y2="431.78" stroke="#f2f2f2" stroke-width="0.5" />
<line x1="346.30" y1="422.22" x2="512.60" y2="422.22" stroke="#f2f2f2" stroke-width="0.5" />
<line x1="346.30" y1="412.66" x2="512.60" y2="412.66" stroke="#f2f2f2" stroke-width="0.5" />
<line x1="346.30" y1="403.10" x2="512.60" y2="403.10" stroke="#f2f2f2" stroke-width="0.5" />
<line x1="346.30" y1="393.54" x2="512.60" y2="393.54" stroke="#f2f2f2" stroke-width="0.5" />
<rect x="346.30" y="381.4" width="166.30" height="69.4" fill="none" stroke="#111" stroke-width="1.2"/>
<path d="M346.9,450.5 L346.9,420.0 L348.1,411.4 L349.5,412.3 L350.9,412.5 L351.3,407.6 L352.3,399.4 L353.3,392.4 L354.0,388.0 L355.4,386.9 L356.4,385.5 L357.5,386.3 L358.5,385.9 L359.5,385.2 L361.0,385.8 L362.0,385.5 L364.0,384.8 L366.0,385.3 L367.5,385.2 L369.5,386.2 L371.0,386.6 L374.0,387.1 L377.7,389.7 L381.6,390.6 L385.5,391.0 L389.3,392.9 L393.2,394.8 L398.4,396.8 L403.6,399.4 L408.1,401.7 L423.1,410.4 L434.6,417.3 L447.3,424.2 L449.0,424.8 L457.7,428.8 L466.5,434.0 L476.3,439.2 L478.6,437.8 L482.7,440.4 L483.8,437.8 L493.1,443.8 L503.6,450.6" fill="none" stroke="#33cc3a" stroke-width="1.4" stroke-linejoin="round"/>
<line x1="342.60" y1="450.90" x2="346.30" y2="450.90" stroke="#111" stroke-width="1.0" />
<text x="340.30" y="452.80" font-size="5.4" text-anchor="end" font-weight="normal" fill="#444" >0.0</text>
<line x1="342.60" y1="441.34" x2="346.30" y2="441.34" stroke="#111" stroke-width="1.0" />
<text x="340.30" y="443.24" font-size="5.4" text-anchor="end" font-weight="normal" fill="#444" >0.1</text>
<line x1="342.60" y1="431.78" x2="346.30" y2="431.78" stroke="#111" stroke-width="1.0" />
<text x="340.30" y="433.68" font-size="5.4" text-anchor="end" font-weight="normal" fill="#444" >0.2</text>
<line x1="342.60" y1="422.22" x2="346.30" y2="422.22" stroke="#111" stroke-width="1.0" />
<text x="340.30" y="424.12" font-size="5.4" text-anchor="end" font-weight="normal" fill="#444" >0.3</text>
<line x1="342.60" y1="412.66" x2="346.30" y2="412.66" stroke="#111" stroke-width="1.0" />
<text x="340.30" y="414.56" font-size="5.4" text-anchor="end" font-weight="normal" fill="#444" >0.4</text>
<line x1="342.60" y1="403.10" x2="346.30" y2="403.10" stroke="#111" stroke-width="1.0" />
<text x="340.30" y="405.00" font-size="5.4" text-anchor="end" font-weight="normal" fill="#444" >0.5</text>
<line x1="342.60" y1="393.54" x2="346.30" y2="393.54" stroke="#111" stroke-width="1.0" />
<text x="340.30" y="395.44" font-size="5.4" text-anchor="end" font-weight="normal" fill="#444" >0.6</text>
<line x1="342.60" y1="383.98" x2="346.30" y2="383.98" stroke="#111" stroke-width="1.0" />
<text x="340.30" y="385.88" font-size="5.4" text-anchor="end" font-weight="normal" fill="#444" >0.7</text>
<text transform="translate(327.60,415.80) rotate(-90)" font-size="6.8" text-anchor="middle" fill="#333" textLength="56" lengthAdjust="spacingAndGlyphs" >Enrichment score (ES)</text>
<text x="475.80" y="393.60" font-size="5.3" text-anchor="start" font-weight="normal" fill="#333" textLength="25" lengthAdjust="spacingAndGlyphs" >ES = 0.692</text>
<text x="475.80" y="399.70" font-size="5.3" text-anchor="start" font-weight="normal" fill="#333" textLength="25.7" lengthAdjust="spacingAndGlyphs" >NES = 2.13</text>
<text x="475.80" y="405.90" font-size="5.3" text-anchor="start" font-weight="normal" fill="#333" textLength="28.8" lengthAdjust="spacingAndGlyphs" >FDR &lt; 0.001</text>
<defs><linearGradient id="cb" x1="0" y1="0" x2="1" y2="0"><stop offset="0.0000" stop-color="#e9303e"/><stop offset="0.1233" stop-color="#ec4050"/><stop offset="0.2245" stop-color="#ef5a68"/><stop offset="0.3004" stop-color="#f07482"/><stop offset="0.3257" stop-color="#f0a0b4"/><stop offset="0.3510" stop-color="#ecc6ea"/><stop offset="0.4649" stop-color="#e0d8f6"/><stop offset="0.6357" stop-color="#d8d8f8"/><stop offset="0.7242" stop-color="#c4c4f4"/><stop offset="0.7369" stop-color="#9090ee"/><stop offset="0.7938" stop-color="#8080ec"/><stop offset="0.8065" stop-color="#5a5ae6"/><stop offset="0.9361" stop-color="#5050e0"/><stop offset="0.9424" stop-color="#2222cc"/><stop offset="1.0000" stop-color="#1818c4"/></linearGradient></defs>
<rect x="346.50" y="479.60" width="158.10" height="5.20" fill="url(#cb)" />
<line x1="348.30" y1="455.50" x2="348.30" y2="478.80" stroke="#aaa" stroke-width="1.0" />
<line x1="350.00" y1="455.50" x2="350.00" y2="478.80" stroke="#999" stroke-width="1.0" />
<line x1="353.00" y1="455.50" x2="353.00" y2="478.80" stroke="#222" stroke-width="1.0" />
<line x1="354.20" y1="455.50" x2="354.20" y2="478.80" stroke="#444" stroke-width="1.0" />
<line x1="356.40" y1="455.50" x2="356.40" y2="478.80" stroke="#555" stroke-width="1.0" />
<line x1="359.90" y1="455.50" x2="359.90" y2="478.80" stroke="#444" stroke-width="1.0" />
<line x1="363.40" y1="455.50" x2="363.40" y2="478.80" stroke="#333" stroke-width="1.0" />
<line x1="367.30" y1="455.50" x2="367.30" y2="478.80" stroke="#333" stroke-width="1.0" />
<line x1="372.00" y1="455.50" x2="372.00" y2="478.80" stroke="#333" stroke-width="1.0" />
<line x1="381.20" y1="455.50" x2="381.20" y2="478.80" stroke="#444" stroke-width="1.0" />
<line x1="382.90" y1="455.50" x2="382.90" y2="478.80" stroke="#666" stroke-width="1.0" />
<line x1="385.30" y1="455.50" x2="385.30" y2="478.80" stroke="#555" stroke-width="1.0" />
<line x1="396.20" y1="455.50" x2="396.20" y2="478.80" stroke="#444" stroke-width="1.0" />
<line x1="398.00" y1="455.50" x2="398.00" y2="478.80" stroke="#777" stroke-width="1.0" />
<line x1="399.70" y1="455.50" x2="399.70" y2="478.80" stroke="#888" stroke-width="1.0" />
<line x1="407.50" y1="455.50" x2="407.50" y2="478.80" stroke="#333" stroke-width="1.0" />
<line x1="415.30" y1="455.50" x2="415.30" y2="478.80" stroke="#555" stroke-width="1.0" />
<line x1="426.50" y1="455.50" x2="426.50" y2="478.80" stroke="#333" stroke-width="1.0" />
<line x1="429.20" y1="455.50" x2="429.20" y2="478.80" stroke="#444" stroke-width="1.0" />
<line x1="449.20" y1="455.50" x2="449.20" y2="478.80" stroke="#555" stroke-width="1.0" />
<line x1="458.40" y1="455.50" x2="458.40" y2="478.80" stroke="#333" stroke-width="1.0" />
<line x1="477.80" y1="455.50" x2="477.80" y2="478.80" stroke="#333" stroke-width="1.0" />
<line x1="482.40" y1="455.50" x2="482.40" y2="478.80" stroke="#888" stroke-width="1.0" />
<line x1="420.40" y1="486.00" x2="420.40" y2="533.20" stroke="#d8d8d8" stroke-width="0.6" />
<line x1="366.50" y1="486.00" x2="366.50" y2="533.00" stroke="#f6f6f6" stroke-width="0.4" />
<line x1="387.80" y1="486.00" x2="387.80" y2="533.00" stroke="#f6f6f6" stroke-width="0.4" />
<line x1="409.10" y1="486.00" x2="409.10" y2="533.00" stroke="#f6f6f6" stroke-width="0.4" />
<line x1="429.80" y1="486.00" x2="429.80" y2="533.00" stroke="#f6f6f6" stroke-width="0.4" />
<line x1="450.90" y1="486.00" x2="450.90" y2="533.00" stroke="#f6f6f6" stroke-width="0.4" />
<line x1="471.80" y1="486.00" x2="471.80" y2="533.00" stroke="#f6f6f6" stroke-width="0.4" />
<line x1="493.40" y1="486.00" x2="493.40" y2="533.00" stroke="#f6f6f6" stroke-width="0.4" />
<path d="M346.8,513.0 L346.8,505.2 L348,507 L350,508.6 L353,509.8 L356,510.6 L360,511.1 L370,511.8 L380,512.2 L400,512.6 L420,512.9 L420,513.1 L440,513.6 L460,514.9 L475,516.2 L490,518.1 L497,519.5 L500,520.8 L502,522 L503.5,524 L504.3,528 L504.6,530.5 L504.6,513.0 Z" fill="#cbcbcb" stroke="#c0c0c0" stroke-width="0.4"/>
<rect x="346.30" y="455.2" width="166.30" height="78.6" fill="none" stroke="#111" stroke-width="1.2"/>
<line x1="346.30" y1="479.20" x2="512.60" y2="479.20" stroke="#111" stroke-width="1.0" />
<line x1="346.30" y1="485.30" x2="512.60" y2="485.30" stroke="#111" stroke-width="1.3" />
<text x="348.20" y="489.80" font-size="4.3" text-anchor="start" font-weight="normal" fill="#e06070" textLength="52.5" lengthAdjust="spacingAndGlyphs" >'na_pos' (positively correlated)</text>
<text x="404.00" y="511.60" font-size="4.3" text-anchor="start" font-weight="normal" fill="#444" textLength="32" lengthAdjust="spacingAndGlyphs" >Zero cross at 8875</text>
<text x="429.60" y="533.00" font-size="4.3" text-anchor="start" font-weight="normal" fill="#4040c0" textLength="56.8" lengthAdjust="spacingAndGlyphs" >'na_neg' (negatively correlated)</text>
<text x="341.20" y="492.75" font-size="5.2" text-anchor="middle" font-weight="normal" fill="#444" >3</text>
<text x="341.20" y="500.10" font-size="5.2" text-anchor="middle" font-weight="normal" fill="#444" >2</text>
<text x="341.20" y="507.45" font-size="5.2" text-anchor="middle" font-weight="normal" fill="#444" >1</text>
<text x="341.20" y="514.80" font-size="5.2" text-anchor="middle" font-weight="normal" fill="#444" >0</text>
<text x="341.20" y="522.15" font-size="5.2" text-anchor="middle" font-weight="normal" fill="#444" >-1</text>
<text x="341.20" y="529.50" font-size="5.2" text-anchor="middle" font-weight="normal" fill="#444" >-2</text>
<text transform="translate(331.60,510.50) rotate(-90)" font-size="6.0" text-anchor="middle" fill="#333" textLength="79.5" lengthAdjust="spacingAndGlyphs" >Ranked list metric (PreRanked)</text>
<line x1="346.30" y1="533.80" x2="346.30" y2="536.60" stroke="#111" stroke-width="1.0" />
<text x="346.30" y="545.00" font-size="5.4" text-anchor="middle" font-weight="normal" fill="#444" >0</text>
<line x1="367.27" y1="533.80" x2="367.27" y2="536.60" stroke="#111" stroke-width="1.0" />
<text x="367.27" y="545.00" font-size="5.4" text-anchor="middle" font-weight="normal" fill="#444" >2,500</text>
<line x1="388.24" y1="533.80" x2="388.24" y2="536.60" stroke="#111" stroke-width="1.0" />
<text x="388.24" y="545.00" font-size="5.4" text-anchor="middle" font-weight="normal" fill="#444" >5,000</text>
<line x1="409.21" y1="533.80" x2="409.21" y2="536.60" stroke="#111" stroke-width="1.0" />
<text x="409.21" y="545.00" font-size="5.4" text-anchor="middle" font-weight="normal" fill="#444" >7,500</text>
<line x1="430.18" y1="533.80" x2="430.18" y2="536.60" stroke="#111" stroke-width="1.0" />
<text x="430.18" y="545.00" font-size="5.4" text-anchor="middle" font-weight="normal" fill="#444" >10,000</text>
<line x1="451.15" y1="533.80" x2="451.15" y2="536.60" stroke="#111" stroke-width="1.0" />
<text x="451.15" y="545.00" font-size="5.4" text-anchor="middle" font-weight="normal" fill="#444" >12,500</text>
<line x1="472.12" y1="533.80" x2="472.12" y2="536.60" stroke="#111" stroke-width="1.0" />
<text x="472.12" y="545.00" font-size="5.4" text-anchor="middle" font-weight="normal" fill="#444" >15,000</text>
<line x1="493.09" y1="533.80" x2="493.09" y2="536.60" stroke="#111" stroke-width="1.0" />
<text x="493.09" y="545.00" font-size="5.4" text-anchor="middle" font-weight="normal" fill="#444" >17,500</text>
<text x="429.30" y="555.00" font-size="6.6" text-anchor="middle" font-weight="normal" fill="#333" textLength="61" lengthAdjust="spacingAndGlyphs" >Rank in ordered dataset</text>
<line x1="345.20" y1="568.80" x2="350.40" y2="568.80" stroke="#b0b040" stroke-width="1.0" />
<text x="354.20" y="570.80" font-size="5.6" text-anchor="start" font-weight="normal" fill="#333" textLength="43.8" lengthAdjust="spacingAndGlyphs" >Enrichment profile</text>
<line x1="402.30" y1="568.80" x2="407.80" y2="568.80" stroke="#111" stroke-width="1.2" />
<text x="410.60" y="570.80" font-size="5.6" text-anchor="start" font-weight="normal" fill="#333" textLength="9.4" lengthAdjust="spacingAndGlyphs" >Hits</text>
<rect x="425.80" y="567.60" width="8.00" height="1.80" fill="#e0e0e0" />
<line x1="435.50" y1="568.80" x2="441.20" y2="568.80" stroke="#999" stroke-width="0.8" />
<text x="444.00" y="570.80" font-size="5.6" text-anchor="start" font-weight="normal" fill="#333" textLength="52" lengthAdjust="spacingAndGlyphs" >Ranking metric scores</text>
</svg>
<div class="frame"></div><div class="frame2"></div>
</body></html>
